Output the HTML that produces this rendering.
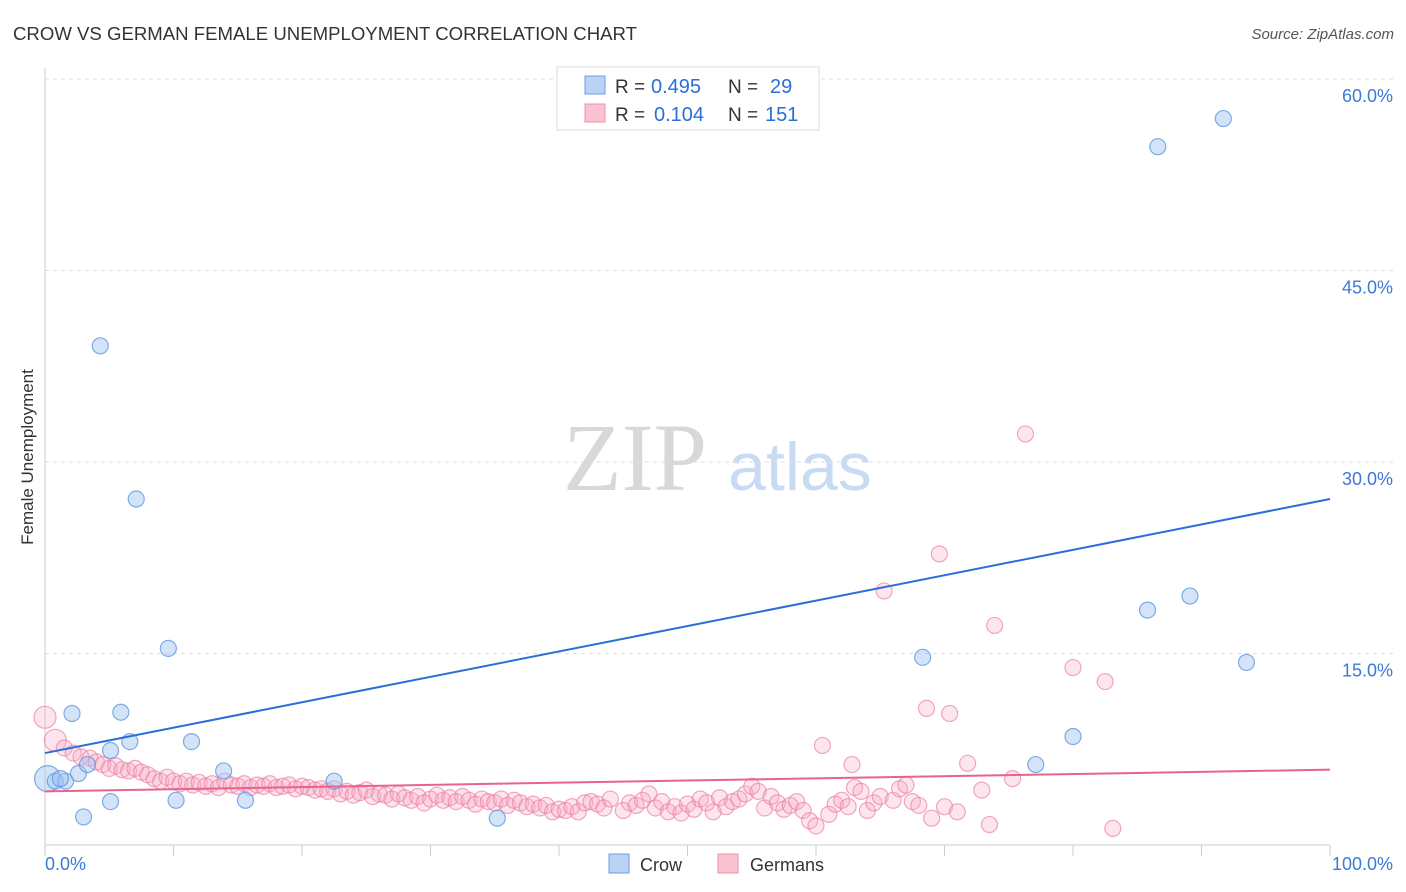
<!DOCTYPE html>
<html><head><meta charset="utf-8"><style>
body{margin:0;background:#fff;font-family:"Liberation Sans",sans-serif;}
#wrap{position:relative;width:1406px;height:892px;overflow:hidden;}
</style></head><body>
<div id="wrap">
<svg id="chart" width="1406" height="892">
<text x="13" y="40" font-size="18" fill="#333" textLength="624" lengthAdjust="spacingAndGlyphs">CROW VS GERMAN FEMALE UNEMPLOYMENT CORRELATION CHART</text>
<text x="1394" y="39" font-size="15" fill="#555" font-style="italic" text-anchor="end">Source: ZipAtlas.com</text>
<text transform="translate(33,457) rotate(-90)" font-size="17" fill="#333" text-anchor="middle">Female Unemployment</text>
<text x="635" y="490" font-size="96" fill="#d8d8d8" font-family="Liberation Serif,serif" text-anchor="middle">ZIP</text>
<text x="800" y="490" font-size="68" fill="#c9dbf3" text-anchor="middle">atlas</text>
<g id="grid"></g><g id="ticks"></g><g id="germans"></g><g id="crow"></g><g id="lines"></g>
<g>
<rect x="557" y="67" width="262" height="63" fill="#fff" stroke="#ddd"/>
<rect x="585" y="76" width="20" height="18" fill="#b8d3f5" stroke="#6a9fe0"/>
<rect x="585" y="104" width="20" height="18" fill="#fbc3d2" stroke="#ee8fab"/>
<text x="615" y="93" font-size="19" fill="#333">R =</text>
<text x="651" y="93" font-size="20" fill="#2a6fd6">0.495</text>
<text x="728" y="93" font-size="19" fill="#333">N =</text>
<text x="770" y="93" font-size="20" fill="#2a6fd6">29</text>
<text x="615" y="121" font-size="19" fill="#333">R =</text>
<text x="654" y="121" font-size="20" fill="#2a6fd6">0.104</text>
<text x="728" y="121" font-size="19" fill="#333">N =</text>
<text x="765" y="121" font-size="20" fill="#2a6fd6">151</text>
</g>
<g>
<rect x="609" y="854" width="20" height="19" fill="#b8d3f5" stroke="#6a9fe0"/>
<text x="640" y="871" font-size="18" fill="#333">Crow</text>
<rect x="718" y="854" width="20" height="19" fill="#fbc3d2" stroke="#ee8fab"/>
<text x="750" y="871" font-size="18" fill="#333">Germans</text>
</g>
</svg>
</div>
<script>
const crowX=[0.2,0.8,1.6,1.2,2.6,4.3,7.1,2.1,5.9,3.3,5.1,6.6,9.6,11.4,13.9,3.0,5.1,10.2,15.6,22.5,35.2,68.3,77.1,80.0,85.8,89.1,86.6,91.7,93.5];
const crowY=[5.2,5.0,5.0,5.2,5.6,39.1,27.1,10.3,10.4,6.3,7.4,8.1,15.4,8.1,5.8,2.2,3.4,3.5,3.5,5.0,2.1,14.7,6.3,8.5,18.4,19.5,54.7,56.9,14.3];
const gerPts=[[0,10.0],[0.8,8.2],[1.5,7.6],[2.2,7.2],[2.8,6.9],[3.5,6.8],[4,6.5],[4.5,6.3],[5,6.0],[5.5,6.2],[6,5.9],[6.5,5.8],[7,6.0],[7.5,5.7],[8,5.5],[8.5,5.2],[9,5.0],[9.5,5.3],[10,5.0],[10.5,4.8],[11,5.0],[11.5,4.7],[12,4.9],[12.5,4.6],[13,4.8],[13.5,4.5],[14,5.0],[14.5,4.7],[15,4.6],[15.5,4.8],[16,4.5],[16.5,4.7],[17,4.6],[17.5,4.8],[18,4.5],[18.5,4.6],[19,4.7],[19.5,4.4],[20,4.6],[20.5,4.5],[21,4.3],[21.5,4.4],[22,4.2],[22.5,4.4],[23,4.0],[23.5,4.2],[24,3.9],[24.5,4.1],[25,4.3],[25.5,3.8],[26,4.0],[26.5,3.9],[27,3.6],[27.5,4.0],[28,3.7],[28.5,3.5],[29,3.8],[29.5,3.3],[30,3.6],[30.5,3.9],[31,3.5],[31.5,3.7],[32,3.4],[32.5,3.8],[33,3.5],[33.5,3.2],[34,3.6],[34.5,3.4],[35,3.3],[35.5,3.6],[36,3.1],[36.5,3.5],[37,3.3],[37.5,3.0],[38,3.2],[38.5,2.9],[39,3.1],[39.5,2.6],[40,2.8],[40.5,2.7],[41,3.0],[41.5,2.6],[42,3.3],[42.5,3.4],[43,3.2],[43.5,2.9],[44,3.6],[45,2.7],[45.5,3.3],[46,3.1],[46.5,3.5],[47,4.0],[47.5,2.9],[48,3.4],[48.5,2.6],[49,3.0],[49.5,2.5],[50,3.2],[50.5,2.8],[51,3.6],[51.5,3.3],[52,2.6],[52.5,3.7],[53,3.0],[53.5,3.4],[54,3.6],[54.5,4.0],[55,4.6],[55.5,4.2],[56,2.9],[56.5,3.8],[57,3.3],[57.5,2.8],[58,3.1],[58.5,3.4],[59,2.7],[59.5,1.9],[60,1.5],[60.5,7.8],[61,2.4],[61.5,3.2],[62,3.5],[62.5,3.0],[62.8,6.3],[63,4.5],[63.5,4.2],[64,2.7],[64.5,3.3],[65,3.8],[65.3,19.9],[66,3.5],[66.5,4.4],[67,4.7],[67.5,3.4],[68,3.1],[68.6,10.7],[69,2.1],[69.6,22.8],[70,3.0],[70.4,10.3],[71,2.6],[71.8,6.4],[72.9,4.3],[73.5,1.6],[73.9,17.2],[75.3,5.2],[76.3,32.2],[80,13.9],[82.5,12.8],[83.1,1.3]];
const germanX=gerPts.map(p=>p[0]);
const germanY=gerPts.map(p=>p[1]);
const yTicks=[15,30,45,60];
const yTickLabels=["15.0%","30.0%","45.0%","60.0%"];
const xTicks=[0,10,20,30,40,50,60,70,80,90,100];
const crowLine=[7.2,27.1];
const germanLine=[4.2,5.9];
const NS="http://www.w3.org/2000/svg";
const sx=v=>45+v*12.85;
const sy=v=>845-v*191.5/15;
function mk(tag,attrs,parent){const e=document.createElementNS(NS,tag);for(const k in attrs)e.setAttribute(k,attrs[k]);document.getElementById(parent).appendChild(e);return e;}
yTicks.forEach((t,i)=>{
 const g=mk('line',{x1:45,x2:1393,y1:sy(t),y2:sy(t),stroke:'#ddd','stroke-dasharray':'4,4'},'grid');
 
 
 const l=mk('text',{x:1393,y:sy(t)+23,'font-size':18,fill:'#3c78d8','text-anchor':'end'},'ticks');
 l.textContent=yTickLabels[i];
 
 
});
const ax=mk('line',{x1:45,x2:1330,y1:845,y2:845,stroke:'#ccc'},'grid');


const ay=mk('line',{x1:45,x2:45,y1:68,y2:845,stroke:'#ccc'},'grid');


xTicks.forEach(t=>{
 const k=mk('line',{x1:sx(t),x2:sx(t),y1:845,y2:856,stroke:'#ccc'},'grid');
 
 
});
const x0=mk('text',{x:45,y:870,'font-size':18,fill:'#3c78d8'},'ticks');x0.textContent='0.0%';


const x1=mk('text',{x:1393,y:870,'font-size':18,fill:'#3c78d8','text-anchor':'end'},'ticks');x1.textContent='100.0%';


germanX.forEach((x,i)=>{
 const c=mk('circle',{cx:sx(x),cy:sy(germanY[i]),r:i<2?11:8,fill:'rgba(247,170,195,0.3)',stroke:'rgba(236,130,165,0.7)','stroke-width':1.2},'germans');
 
 
});
crowX.forEach((x,i)=>{
 const c=mk('circle',{cx:sx(x),cy:sy(crowY[i]),r:i==0?13:8,fill:'rgba(160,196,240,0.45)',stroke:'rgba(90,145,220,0.75)','stroke-width':1.2},'crow');
 
 
});
const cl=mk('line',{x1:sx(0),y1:sy(crowLine[0]),x2:sx(100),y2:sy(crowLine[1]),stroke:'#2a6fd6','stroke-width':2},'lines');


const gl=mk('line',{x1:sx(0),y1:sy(germanLine[0]),x2:sx(100),y2:sy(germanLine[1]),stroke:'#e8628e','stroke-width':2},'lines');


</script>
</body></html>
